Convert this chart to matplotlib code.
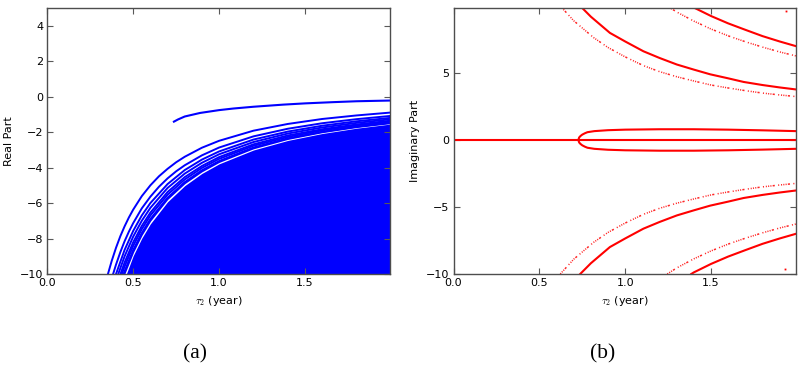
import matplotlib
matplotlib.use('Agg')
import matplotlib.pyplot as plt
import numpy as np

plt.rcParams['font.family'] = 'DejaVu Sans'
plt.rcParams['font.size'] = 8
plt.rcParams['mathtext.fontset'] = 'cm'

# ---- (a) real parts of the roots vs tau2 ----
# dominant branch (starts where the two real roots collide)
re_top_tau = [0.737, 0.76, 0.80, 0.889, 1.0, 1.083, 1.2, 1.374, 1.5, 1.665, 1.8, 1.995]
re_top_val = [-1.41, -1.29, -1.12, -0.92, -0.76, -0.67, -0.57, -0.45, -0.38, -0.31, -0.26, -0.22]

# separate curves at the top of the dense band
grid_a = [0.45, 0.50, 0.55, 0.60, 0.70, 0.80, 0.90, 1.00, 1.20, 1.40, 1.60, 1.80, 1.995]
grid_b = grid_a[1:]
re_c1_tau = [0.353, 0.375, 0.40, 0.425, 0.45, 0.475, 0.50, 0.55, 0.60, 0.65, 0.70, 0.75, 0.80,
             0.90, 1.00, 1.20, 1.40, 1.60, 1.80, 1.995]
re_c1_val = [-10, -9.26, -8.52, -7.87, -7.31, -6.81, -6.37, -5.61, -5.00, -4.49, -4.07, -3.70, -3.39,
             -2.88, -2.49, -1.92, -1.54, -1.26, -1.06, -0.90]
re_c2_tau = [0.383, 0.40, 0.425, 0.45, 0.475, 0.50, 0.55, 0.60, 0.65, 0.70, 0.75, 0.80,
             0.90, 1.00, 1.20, 1.40, 1.60, 1.80, 1.995]
re_c2_val = [-10, -9.47, -8.77, -8.15, -7.61, -7.13, -6.30, -5.64, -5.08, -4.61, -4.21, -3.87,
             -3.31, -2.87, -2.24, -1.81, -1.50, -1.27, -1.09]
re_c3_tau = [0.400] + grid_a
re_c3_val = [-10, -8.64, -7.57, -6.70, -6.00, -4.93, -4.14, -3.55, -3.09, -2.42, -1.97, -1.64, -1.39, -1.20]
re_c4_tau = [0.413] + grid_a
re_c4_val = [-10, -9.00, -7.89, -7.00, -6.27, -5.15, -4.34, -3.73, -3.25, -2.56, -2.08, -1.74, -1.48, -1.28]
re_c5_tau = [0.426] + grid_a
re_c5_val = [-10, -9.35, -8.21, -7.29, -6.54, -5.38, -4.54, -3.91, -3.41, -2.69, -2.19, -1.84, -1.57, -1.36]
re_c6_tau = [0.434] + grid_a
re_c6_val = [-10, -9.57, -8.41, -7.47, -6.70, -5.53, -4.67, -4.02, -3.51, -2.77, -2.27, -1.90, -1.62, -1.41]
re_c7_tau = [0.444] + grid_a
re_c7_val = [-10, -9.84, -8.65, -7.69, -6.90, -5.70, -4.82, -4.15, -3.63, -2.87, -2.35, -1.98, -1.69, -1.47]
re_c8_tau = [0.449] + grid_b
re_c8_val = [-10, -8.77, -7.80, -7.00, -5.78, -4.89, -4.22, -3.69, -2.92, -2.39, -2.01, -1.72, -1.50]
# upper edge of the solid mass of curves
re_fill_tau = [0.460] + grid_b
re_fill_val = [-10, -8.97, -7.98, -7.17, -5.93, -5.02, -4.33, -3.79, -3.01, -2.47, -2.08, -1.78, -1.55]

band = [(re_c1_tau, re_c1_val), (re_c2_tau, re_c2_val), (re_c3_tau, re_c3_val),
        (re_c4_tau, re_c4_val), (re_c5_tau, re_c5_val), (re_c6_tau, re_c6_val),
        (re_c7_tau, re_c7_val), (re_c8_tau, re_c8_val)]

# ---- (b) imaginary parts (symmetric about 0) ----
im_zero_tau = [0.0, 1.995]
im_zero_val = [0.0, 0.0]
im_loop_tau = [0.727, 0.732, 0.74, 0.75, 0.765, 0.78, 0.82, 0.9, 1.0, 1.2, 1.4, 1.6, 1.8, 1.995]
im_loop_val = [0.0, 0.19, 0.30, 0.40, 0.50, 0.58, 0.66, 0.73, 0.77, 0.80, 0.80, 0.77, 0.72, 0.66]
im_a_tau = [0.738, 0.8, 0.911, 1.0, 1.106, 1.2, 1.301, 1.4, 1.495, 1.6, 1.69, 1.8, 1.9, 1.995]
im_a_val = [10.0, 9.2, 7.99, 7.35, 6.62, 6.12, 5.63, 5.25, 4.9, 4.6, 4.33, 4.1, 3.92, 3.77]
im_b_tau = [1.385, 1.4, 1.5, 1.6, 1.7, 1.8, 1.9, 1.995]
im_b_val = [10.0, 9.88, 9.25, 8.7, 8.22, 7.75, 7.35, 7.0]
# branches that the root finder only caught now and then (dotted)
im_c_tau = [0.622, 0.7, 0.816, 0.9, 1.0, 1.106, 1.2, 1.3, 1.4, 1.5, 1.6, 1.7, 1.8, 1.9, 1.995]
im_c_val = [10.0, 8.9, 7.64, 6.9, 6.2, 5.55, 5.1, 4.72, 4.4, 4.1, 3.88, 3.68, 3.5, 3.36, 3.24]
im_d_tau = [1.245, 1.3, 1.4, 1.5, 1.6, 1.7, 1.8, 1.9, 1.995]
im_d_val = [10.0, 9.55, 8.87, 8.28, 7.77, 7.33, 6.93, 6.57, 6.27]
im_dot_tau = [1.935, 1.933]
im_dot_val = [9.65, -9.6]

fig = plt.figure(figsize=(8.02, 3.69), dpi=100)
ax1 = fig.add_axes([0.059, 0.2575, 0.4273, 0.7209])
ax2 = fig.add_axes([0.5655, 0.2575, 0.427, 0.7209])

ax1.fill_between(re_fill_tau, re_fill_val, -10, color='b', lw=0)
for t, v in band:
    ax1.plot(t, v, color='b', lw=1.4)
ax1.plot(re_top_tau, re_top_val, color='b', lw=1.5)

ax2.plot(im_zero_tau, im_zero_val, color='r', lw=1.5)
for t, v in [(im_loop_tau, im_loop_val), (im_a_tau, im_a_val), (im_b_tau, im_b_val)]:
    v = np.array(v)
    ax2.plot(t, v, color='r', lw=1.5)
    ax2.plot(t, -v, color='r', lw=1.5)
for t, v in [(im_c_tau, im_c_val), (im_d_tau, im_d_val)]:
    v = np.array(v)
    for s in (1, -1):
        ax2.plot(t, s * v, color='r', lw=1.1, alpha=0.85,
                 linestyle=(0, (0.7, 0.8, 0.7, 0.8, 0.7, 0.8, 1.4, 2.2, 0.7, 1.2)))
ax2.plot(im_dot_tau, im_dot_val, 's', color='r', ms=1.3, mew=0)

ax1.set_xlim(0, 1.995)
ax1.set_ylim(-10, 5)
ax1.set_yticks(np.arange(-10, 5, 2))
ax1.set_ylabel('Real Part')
ax2.set_xlim(0, 1.995)
ax2.set_ylim(-10, 9.85)
ax2.set_yticks([-10, -5, 0, 5])
ax2.set_ylabel('Imaginary Part')

for ax in (ax1, ax2):
    ax.set_xticks([0.0, 0.5, 1.0, 1.5])
    ax.set_xlabel(r'$\tau_2$ (year)')
    ax.tick_params(direction='in', top=True, right=True, length=4, width=0.8,
                   pad=3, colors='0.35', labelcolor='black')
    for sp in ax.spines.values():
        sp.set_color('0.3')
        sp.set_linewidth(1.0)

fig.text(195 / 802, 1 - 354 / 369, '(a)', family='Liberation Serif', fontsize=15.5,
         ha='center', va='center')
fig.text(603 / 802, 1 - 354 / 369, '(b)', family='Liberation Serif', fontsize=15.5,
         ha='center', va='center')

fig.savefig('out.png', dpi=100)
